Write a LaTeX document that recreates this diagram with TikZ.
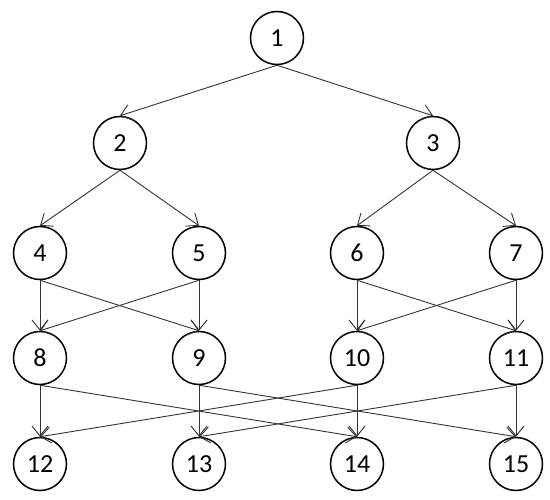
\documentclass[tikz,border=0pt]{standalone}
\usepackage{fontspec}
\setmainfont{Carlito}
\usetikzlibrary{arrows.meta}
\begin{document}
\begin{tikzpicture}[x=1pt,y=1pt,
  vertex/.style={circle,draw=black,line width=1.5pt,minimum size=53pt,inner sep=0pt,font=\fontsize{26}{26}\selectfont},
  edge/.style={draw=black!80,line width=0.9pt,-{Straight Barb[length=10pt,width=16pt,line width=0.9pt]}}]
\useasboundingbox (0,0) rectangle (550,-500);
\node[vertex] (n1) at (277,-38) {1};
\node[vertex] (n2) at (120,-143) {2};
\node[vertex] (n3) at (433,-143) {3};
\node[vertex] (n4) at (40,-253) {4};
\node[vertex] (n5) at (199,-253) {5};
\node[vertex] (n6) at (357,-253) {6};
\node[vertex] (n7) at (516,-253) {7};
\node[vertex] (n8) at (40,-358) {8};
\node[vertex] (n9) at (199,-358) {9};
\node[vertex] (n10) at (357,-358) {10};
\node[vertex] (n11) at (516,-358) {11};
\node[vertex] (n12) at (40,-464) {12};
\node[vertex] (n13) at (199,-464) {13};
\node[vertex] (n14) at (357,-464) {14};
\node[vertex] (n15) at (516,-464) {15};
\foreach \a/\b in {n1/n2,n1/n3,n2/n4,n2/n5,n3/n6,n3/n7,n4/n8,n4/n9,n5/n8,n5/n9,n6/n10,n6/n11,n7/n10,n7/n11,n8/n12,n8/n14,n9/n13,n9/n15,n10/n12,n10/n14,n11/n13,n11/n15}
  \draw[edge] (\a.south) -- (\b.north);
\end{tikzpicture}
\end{document}
